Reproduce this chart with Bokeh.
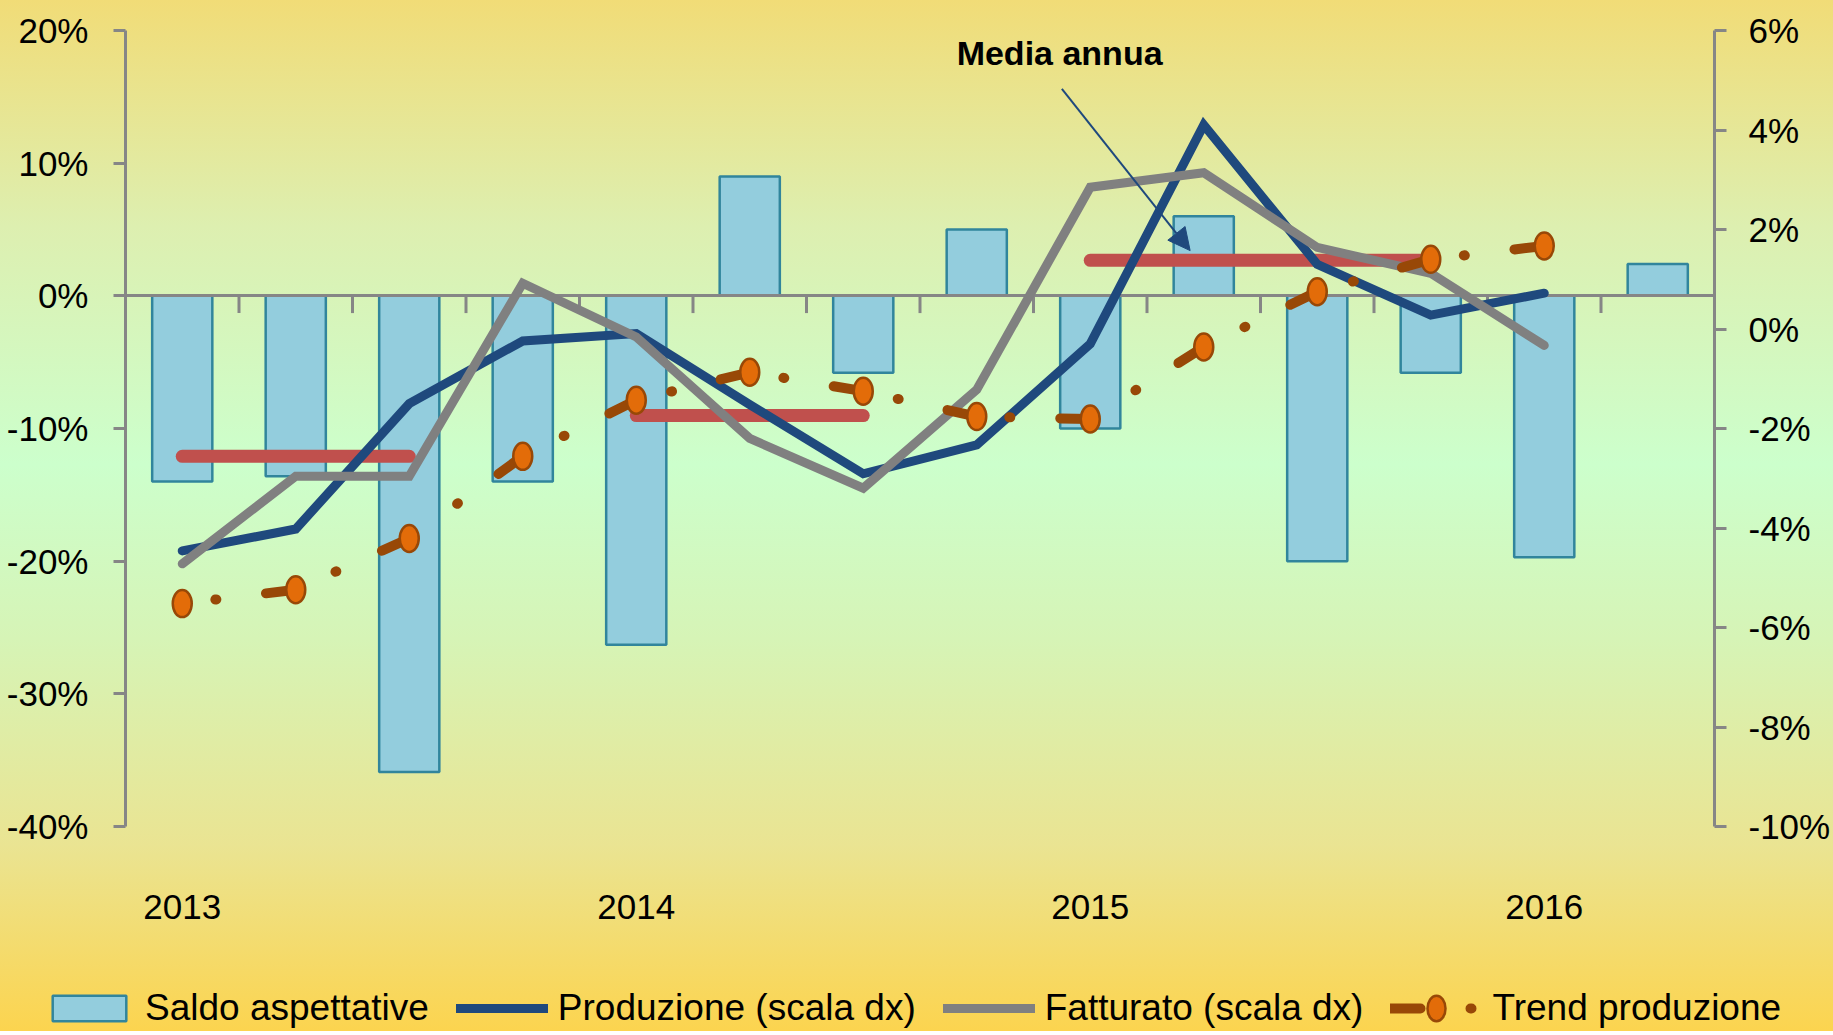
import numpy as np
from bokeh.plotting import figure
from bokeh.layouts import column
from bokeh.models import (Range1d, LinearAxis, FixedTicker, SingleIntervalTicker,
                          PrintfTickFormatter, Legend, LegendItem, Label, Arrow, NormalHead)
from bokeh.embed import file_html
from bokeh.resources import INLINE

# ---------------- data ----------------
quarters = ["2013-T1", "2013-T2", "2013-T3", "2013-T4",
            "2014-T1", "2014-T2", "2014-T3", "2014-T4",
            "2015-T1", "2015-T2", "2015-T3", "2015-T4",
            "2016-T1", "2016-T2"]
years = ["2013", "2014", "2015", "2016"]

# Saldo aspettative (left axis, %)
saldo = [-14.0, -13.6, -35.9, -14.0, -26.3, 9.0, -5.8, 5.0,
         -10.0, 6.0, -20.0, -5.8, -19.7, 2.4]
# Produzione, Fatturato, Trend produzione (right axis, %), 2013-T1 .. 2016-T1
produzione = [-4.46, -4.02, -1.50, -0.24, -0.09, -1.52, -2.91, -2.33,
              -0.30, 4.10, 1.30, 0.28, 0.72]
fatturato = [-4.72, -2.96, -2.96, 0.92, -0.16, -2.20, -3.20, -1.22,
             2.85, 3.14, 1.64, 1.12, -0.33]
trend = [-5.52, -5.24, -4.21, -2.56, -1.43, -0.87, -1.25, -1.76,
         -1.81, -0.36, 0.75, 1.40, 1.67]
# Media annua della produzione (right axis)
media_start = ["2013-T1", "2014-T1", "2015-T1"]
media_end = ["2013-T3", "2014-T3", "2015-T4"]
media_val = [-2.56, -1.74, 1.38]

left_ticks_step = 10
right_ticks_step = 2

# ---------------- styling ----------------
FONT = "Liberation Sans"
AXIS_GREY = "#868686"
NAVY = "#1F497D"
GREY = "#808080"
BROWN = "#984807"
ORANGE = "#E36C09"
RED = "#C0504D"
BAR_FILL = "#93CDDD"
BAR_LINE = "#31859C"
TREND_DASH = "30 50 1 200"

n = len(quarters)
xq = list(range(n))
xl = xq[:len(produzione)]

W = 1831
p = figure(frame_width=1589, frame_height=796, output_backend="svg", toolbar_location=None,
           x_range=Range1d(-0.5, n - 0.5), y_range=Range1d(-40, 20),
           min_border_left=125, min_border_right=117, min_border_top=30,
           min_border_bottom=125)
p.extra_y_ranges = {"right": Range1d(-10, 6)}
p.background_fill_color = None
p.border_fill_color = None
p.outline_line_color = None
p.grid.visible = False

# x axis (years under Q1)
xa = p.xaxis[0]
year_pos = [i for i, q in enumerate(quarters) if q.endswith("T1")]
xa.ticker = FixedTicker(ticks=year_pos)
xa.major_label_overrides = {pos: years[k] for k, pos in enumerate(year_pos)}
xa.axis_line_color = None
xa.major_tick_line_color = None
xa.minor_tick_line_color = None
xa.major_tick_out = 0
xa.major_tick_in = 0
xa.major_label_standoff = 68
xa.major_label_text_font = FONT
xa.major_label_text_font_size = "35px"
xa.major_label_text_color = "black"

# left axis
ya = p.yaxis[0]
ya.ticker = SingleIntervalTicker(interval=left_ticks_step)
ya.formatter = PrintfTickFormatter(format="%d%%")
ya.axis_line_color = AXIS_GREY
ya.axis_line_width = 3
ya.major_tick_line_color = AXIS_GREY
ya.major_tick_line_width = 3
ya.major_tick_out = 12
ya.major_tick_in = 0
ya.minor_tick_line_color = None
ya.major_label_standoff = 25
ya.major_label_text_font = FONT
ya.major_label_text_font_size = "35px"
ya.major_label_text_color = "black"

ra = LinearAxis(y_range_name="right",
                ticker=SingleIntervalTicker(interval=right_ticks_step),
                formatter=PrintfTickFormatter(format="%d%%"))
ra.axis_line_color = AXIS_GREY
ra.axis_line_width = 3
ra.major_tick_line_color = AXIS_GREY
ra.major_tick_line_width = 3
ra.major_tick_out = 12
ra.major_tick_in = 0
ra.minor_tick_line_color = None
ra.major_label_standoff = 22
ra.major_label_text_font = FONT
ra.major_label_text_font_size = "35px"
ra.major_label_text_color = "black"
p.add_layout(ra, "right")

# bars
bar_kw = dict(fill_color=BAR_FILL, line_color=BAR_LINE, line_width=2.5)
p.vbar(x=xq, top=saldo, bottom=0, width=0.53, **bar_kw)

# zero line with category ticks
p.hspan(y=[0], line_color=AXIS_GREY, line_width=3)
bounds = [i + 0.5 for i in range(n - 1)]
p.segment(x0=bounds, y0=[0] * len(bounds), x1=bounds, y1=[-1.3] * len(bounds),
          line_color=AXIS_GREY, line_width=3)

# annual averages
ms = [quarters.index(q) for q in media_start]
me = [quarters.index(q) for q in media_end]
p.segment(x0=ms, y0=media_val, x1=me, y1=media_val, y_range_name="right",
          line_color=RED, line_width=13, line_cap="round")

# lines
prod_kw = dict(line_color=NAVY, line_width=9, line_cap="round", line_join="miter")
fatt_kw = dict(line_color=GREY, line_width=9, line_cap="round", line_join="miter")
p.line(xl, produzione, y_range_name="right", **prod_kw)
p.line(xl, fatturato, y_range_name="right", **fatt_kw)

# trend: each segment drawn separately (pattern restarts at every point)
trend_kw = dict(line_color=BROWN, line_width=10, line_cap="round", line_dash=TREND_DASH)
mark_kw = dict(width=19, height=27, width_units="screen", height_units="screen",
               fill_color=ORANGE, line_color=BROWN, line_width=2.5)
seg_xs = [[xl[i + 1], xl[i]] for i in range(len(trend) - 1)]
seg_ys = [[trend[i + 1], trend[i]] for i in range(len(trend) - 1)]
p.multi_line(seg_xs, seg_ys, y_range_name="right", **trend_kw)
p.ellipse(x=xl, y=trend, y_range_name="right", **mark_kw)

# annotation
p.add_layout(Label(x=7.73, y=18.3, text="Media annua", text_align="center",
                   text_baseline="middle", text_font=FONT, text_font_style="bold",
                   text_font_size="34px", text_color="black"))
p.add_layout(Arrow(end=NormalHead(size=22, fill_color=NAVY, line_color=NAVY, line_width=1),
                   x_start=7.75, y_start=15.6, x_end=8.88, y_end=3.41,
                   line_color=NAVY, line_width=2))

# ---------------- legend strip (same series, not drawn in its own view) ----------------
q = figure(width=W, height=80, output_backend="svg", toolbar_location=None,
           x_axis_location=None, y_axis_location=None, min_border=0,
           x_range=Range1d(-0.5, n - 0.5), y_range=Range1d(1000, 1001))
if "frame_align" in q.properties():
    q.frame_align = False
q.background_fill_color = None
q.border_fill_color = None
q.outline_line_color = None
q.grid.visible = False
lg_bar = q.vbar(x=xq, top=saldo, bottom=0, width=0.53, visible=False, **bar_kw)
lg_prod = q.line(xl, produzione, visible=False, **prod_kw)
lg_fatt = q.line(xl, fatturato, visible=False, **fatt_kw)
lg_trend = q.multi_line(seg_xs, seg_ys, visible=False, **trend_kw)
lg_mark = q.ellipse(x=xl, y=trend, **mark_kw)

legend = Legend(items=[
    LegendItem(label="Saldo aspettative", renderers=[lg_bar]),
    LegendItem(label="Produzione (scala dx)", renderers=[lg_prod]),
    LegendItem(label="Fatturato (scala dx)", renderers=[lg_fatt]),
    LegendItem(label="Trend produzione", renderers=[lg_trend, lg_mark]),
], orientation="horizontal", location=(43, 2))
legend.glyph_width = 92
legend.glyph_height = 32
legend.label_standoff = 10
legend.spacing = 27
legend.padding = 0
legend.margin = 0
legend.border_line_color = None
legend.background_fill_color = None
legend.background_fill_alpha = 0
legend.inactive_fill_alpha = 0
legend.label_text_font = FONT
legend.label_text_font_size = "37px"
legend.label_text_color = "black"
q.add_layout(legend)

layout = column(p, q, spacing=0, styles={
    "background-image":
    "linear-gradient(180deg, #F1DC77 0%, #DDEFB0 22%, #CCFFCC 45%, "
    "#D6F4B6 62%, #EAE492 82%, #FCD44F 100%)"})

open("out.html", "w").write(file_html(layout, INLINE))
